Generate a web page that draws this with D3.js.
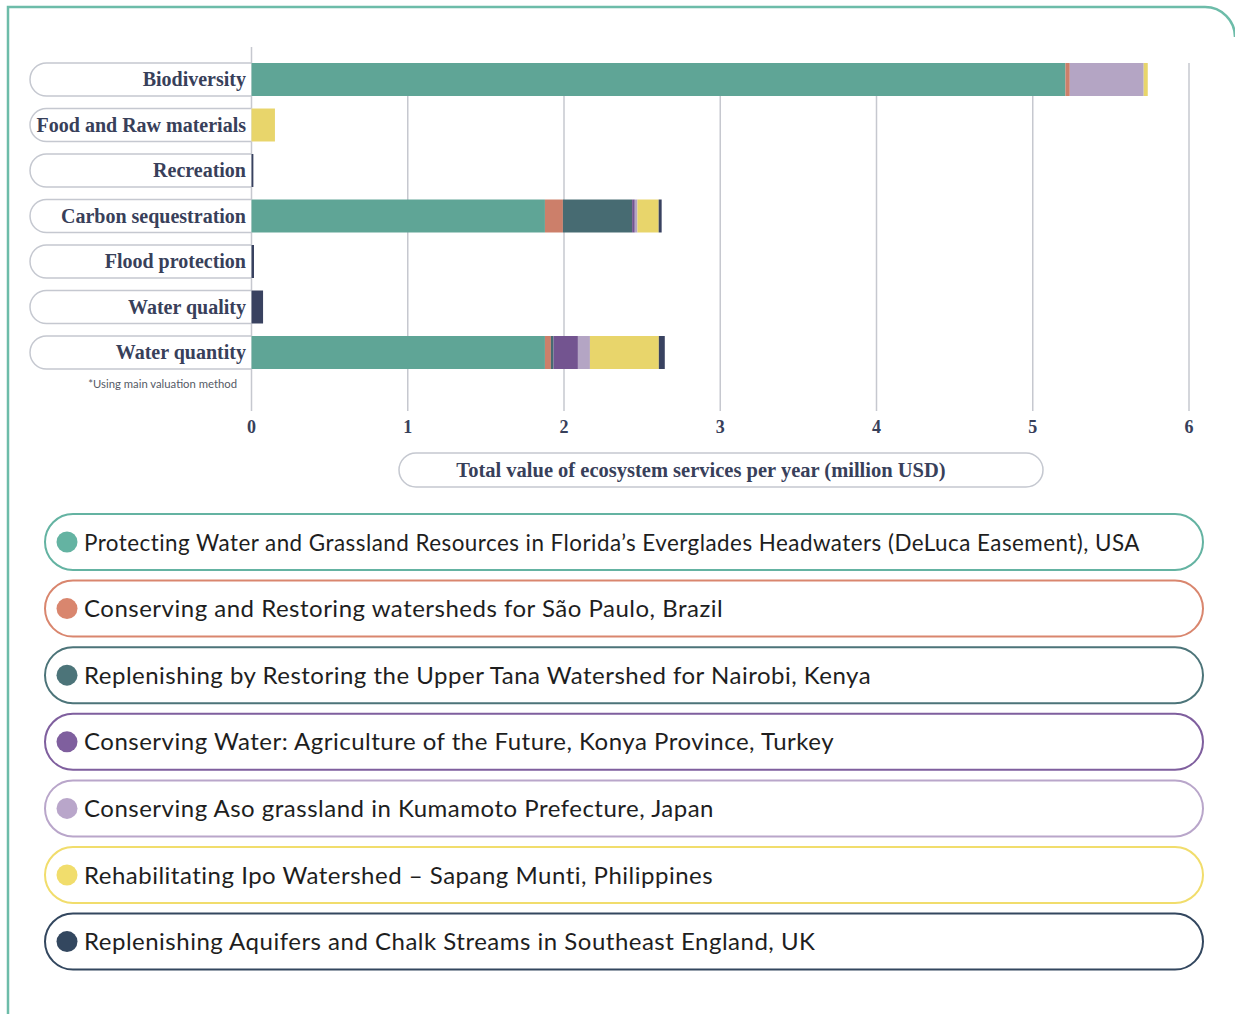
<!DOCTYPE html>
<html>
<head>
<meta charset="utf-8">
<script src="https://cdn.jsdelivr.net/npm/d3@7"></script>
<style>
  body { margin: 0; background: #fff; }
  svg { display: block; }
  .cat-label { font-family: "Liberation Serif", serif; font-weight: bold; font-size: 20px; fill: #38405a; }
  .tick-label { font-family: "Liberation Serif", serif; font-weight: bold; font-size: 18px; fill: #38405a; }
  .legend-text { font-family: Lato, sans-serif; font-size: 24px; letter-spacing: 0.5px; fill: #1e1e1e; }
</style>
</head>
<body>
<div id="chart"></div>
<script>
const categories = ["Biodiversity", "Food and Raw materials", "Recreation", "Carbon sequestration", "Flood protection", "Water quality", "Water quantity"];

const projects = [
  "Protecting Water and Grassland Resources in Florida\u2019s Everglades Headwaters (DeLuca Easement), USA",
  "Conserving and Restoring watersheds for S\u00e3o Paulo, Brazil",
  "Replenishing by Restoring the Upper Tana Watershed for Nairobi, Kenya",
  "Conserving Water: Agriculture of the Future, Konya Province, Turkey",
  "Conserving Aso grassland in Kumamoto Prefecture, Japan",
  "Rehabilitating Ipo Watershed \u2013 Sapang Munti, Philippines",
  "Replenishing Aquifers and Chalk Streams in Southeast England, UK"
];

// million USD per year, one value per category (same order as categories)
const florida   = [5.209, 0,    0,     1.878, 0,     0,     1.878];
const saoPaulo  = [0.028, 0,    0,     0.115, 0,     0,     0.038];
const nairobi   = [0,     0,    0,     0.443, 0,     0,     0.017];
const konya     = [0,     0,    0,     0.017, 0,     0,     0.156];
const aso       = [0.473, 0,    0,     0.017, 0,     0,     0.077];
const ipo       = [0.026, 0.15, 0,     0.136, 0,     0,     0.441];
const seEngland = [0,     0,    0.012, 0.019, 0.016, 0.074, 0.038];

const series = [florida, saoPaulo, nairobi, konya, aso, ipo, seEngland];
const xTicks = [0, 1, 2, 3, 4, 5, 6];

const barColors    = ["#5fa596", "#cc7f6a", "#476b72", "#735490", "#b4a5c4", "#e8d56b", "#394260"];
const legendColors = ["#64b3a2", "#d9866e", "#4c7479", "#7f5f9e", "#b9a6ca", "#f1dd6c", "#33475f"];

const width = 1235, height = 1014;

const svg = d3.select("#chart")
  .append("svg")
  .attr("width", width)
  .attr("height", height);

// outer frame
svg.append("path")
  .attr("d", "M8,1014 V7 H1205 A30,30 0 0 1 1235,37")
  .attr("fill", "none")
  .attr("stroke", "#6dbca9")
  .attr("stroke-width", 2.5);

const x = d3.scaleLinear()
  .domain([0, 6])
  .range([251.5, 1189]);

const y = d3.scaleBand()
  .domain(categories)
  .range([56.75, 375.25])
  .paddingInner(0.275)
  .paddingOuter(0.1375);

// gridlines
svg.append("g")
  .selectAll("line")
  .data(xTicks)
  .enter()
  .append("line")
  .attr("x1", d => x(d))
  .attr("x2", d => x(d))
  .attr("y1", d => d === 0 ? 47 : y(categories[0]))
  .attr("y2", 411)
  .attr("stroke", "#c6c8cf")
  .attr("stroke-width", 1.5);

// category label pills
const labels = svg.append("g");
labels.selectAll("path")
  .data(categories)
  .enter()
  .append("path")
  .attr("d", d => {
    const t = y(d), b = t + y.bandwidth(), r = y.bandwidth() / 2;
    return `M${x(0)},${t} H${30 + r} A${r},${r} 0 0 0 ${30 + r},${b} H${x(0)}`;
  })
  .attr("fill", "#fff")
  .attr("stroke", "#c5c8d0")
  .attr("stroke-width", 1.5);

labels.selectAll("text")
  .data(categories)
  .enter()
  .append("text")
  .attr("class", "cat-label")
  .attr("x", 246)
  .attr("y", d => y(d) + y.bandwidth() / 2 + 6.5)
  .attr("text-anchor", "end")
  .text(d => d);

// stacked bars
const rows = categories.map((c, i) => {
  const row = { category: c };
  projects.forEach((p, j) => row[p] = series[j][i]);
  return row;
});
const stack = d3.stack().keys(projects)(rows);

svg.append("g")
  .selectAll("g")
  .data(stack)
  .enter()
  .append("g")
  .attr("fill", (d, i) => barColors[i])
  .selectAll("rect")
  .data(d => d)
  .enter()
  .append("rect")
  .attr("x", d => x(d[0]))
  .attr("y", d => y(d.data.category))
  .attr("width", d => x(d[1]) - x(d[0]))
  .attr("height", y.bandwidth());

// x axis tick labels
svg.append("g")
  .selectAll("text")
  .data(xTicks)
  .enter()
  .append("text")
  .attr("class", "tick-label")
  .attr("x", d => x(d))
  .attr("y", 433)
  .attr("text-anchor", "middle")
  .text(d => d);

// footnote
svg.append("text")
  .attr("x", 237)
  .attr("y", 388)
  .attr("text-anchor", "end")
  .style("font-family", "Lato, sans-serif")
  .style("font-size", "11.3px")
  .style("fill", "#555a66")
  .text("*Using main valuation method");

// axis title pill
svg.append("rect")
  .attr("x", 399)
  .attr("y", 453)
  .attr("width", 644)
  .attr("height", 34)
  .attr("rx", 17)
  .attr("fill", "#fff")
  .attr("stroke", "#c5c8d0")
  .attr("stroke-width", 1.5);

svg.append("text")
  .attr("x", 701)
  .attr("y", 477)
  .attr("text-anchor", "middle")
  .style("font-family", "Liberation Serif, serif")
  .style("font-weight", "bold")
  .style("font-size", "20.5px")
  .style("fill", "#38405a")
  .text("Total value of ecosystem services per year (million USD)");

// legend
const legend = svg.append("g")
  .selectAll("g")
  .data(projects)
  .enter()
  .append("g")
  .attr("transform", (d, i) => `translate(0,${514 + i * 66.6})`);

legend.append("rect")
  .attr("x", 45)
  .attr("y", 0)
  .attr("width", 1158)
  .attr("height", 56)
  .attr("rx", 28)
  .attr("fill", "#fff")
  .attr("stroke", (d, i) => legendColors[i])
  .attr("stroke-width", 2);

legend.append("circle")
  .attr("cx", 67)
  .attr("cy", 28)
  .attr("r", 10.5)
  .attr("fill", (d, i) => legendColors[i]);

legend.append("text")
  .attr("class", "legend-text")
  .attr("x", 84)
  .attr("y", 36.5)
  .text(d => d)
  .each(function () {
    // keep long names inside the pill
    if (this.getComputedTextLength() > 1056) {
      d3.select(this).attr("textLength", 1056).attr("lengthAdjust", "spacingAndGlyphs");
    }
  });
</script>
</body>
</html>
